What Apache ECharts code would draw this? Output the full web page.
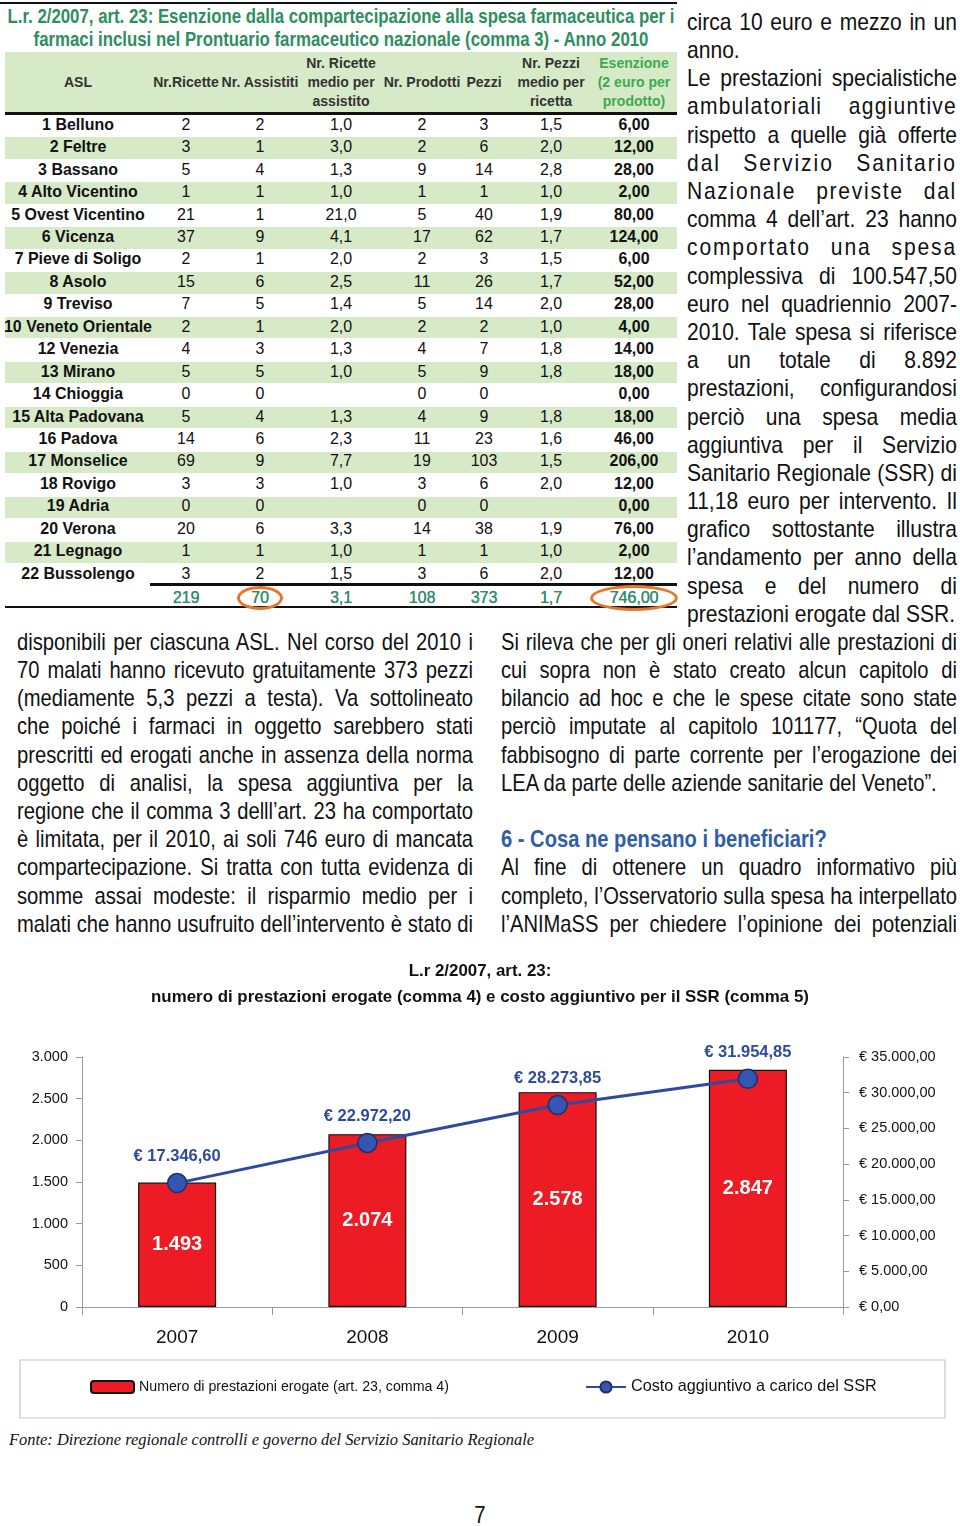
<!DOCTYPE html>
<html><head><meta charset="utf-8">
<script src="https://cdn.jsdelivr.net/npm/echarts@6/dist/echarts.min.js"></script>
<style>
html,body{margin:0;padding:0;background:#fff;}
body{width:960px;height:1526px;position:relative;overflow:hidden;font-family:"Liberation Sans",Arial,sans-serif;color:#111;}
.abs{position:absolute;}
.cell{position:absolute;white-space:nowrap;text-align:center;transform-origin:50% 50%;}
.ln{white-space:normal;overflow:visible;}
</style></head>
<body>
<div id="page"></div>
<div id="chart" style="position:absolute;left:0;top:940px;width:960px;height:520px;"></div>
<script>
// ---------------- DATA ----------------
const tableTitle = ['L.r. 2/2007, art. 23: Esenzione dalla compartecipazione alla spesa farmaceutica per i',
                    'farmaci inclusi nel Prontuario farmaceutico nazionale (comma 3) - Anno 2010'];
const headers = [['ASL'],['Nr.Ricette'],['Nr. Assistiti'],['Nr. Ricette','medio per','assistito'],['Nr. Prodotti'],['Pezzi'],['Nr. Pezzi','medio per','ricetta'],['Esenzione','(2 euro per','prodotto)']];
const asl = ['1 Belluno','2 Feltre','3 Bassano','4 Alto Vicentino','5 Ovest Vicentino','6 Vicenza','7 Pieve di Soligo','8 Asolo','9 Treviso','10 Veneto Orientale','12 Venezia','13 Mirano','14 Chioggia','15 Alta Padovana','16 Padova','17 Monselice','18 Rovigo','19 Adria','20 Verona','21 Legnago','22 Bussolengo'];
const nrRicette  = [2,3,5,1,21,37,2,15,7,2,4,5,0,5,14,69,3,0,20,1,3];
const nrAssistiti= [2,1,4,1,1,9,1,6,5,1,3,5,0,4,6,9,3,0,6,1,2];
const ricMedie   = [1.0,3.0,1.3,1.0,21.0,4.1,2.0,2.5,1.4,2.0,1.3,1.0,null,1.3,2.3,7.7,1.0,null,3.3,1.0,1.5];
const nrProdotti = [2,2,9,1,5,17,2,11,5,2,4,5,0,4,11,19,3,0,14,1,3];
const pezzi      = [3,6,14,1,40,62,3,26,14,2,7,9,0,9,23,103,6,0,38,1,6];
const pezziMedi  = [1.5,2.0,2.8,1.0,1.9,1.7,1.5,1.7,2.0,1.0,1.8,1.8,null,1.8,1.6,1.5,2.0,null,1.9,1.0,2.0];
const esenzione  = [6,12,28,2,80,124,6,52,28,4,14,18,0,18,46,206,12,0,76,2,12];
const totali     = ['219','70','3,1','108','373','1,7','746,00'];

const textRight = ['circa 10 euro e mezzo in un','anno.','Le prestazioni specialistiche','ambulatoriali aggiuntive','rispetto a quelle già offerte','dal Servizio Sanitario','Nazionale previste dal','comma 4 dell’art. 23 hanno','comportato una spesa','complessiva di 100.547,50','euro nel quadriennio 2007-','2010. Tale spesa si riferisce','a un totale di 8.892','prestazioni, configurandosi','perciò una spesa media','aggiuntiva per il Servizio','Sanitario Regionale (SSR) di','11,18 euro per intervento. Il','grafico sottostante illustra','l’andamento per anno della','spesa e del numero di','prestazioni erogate dal SSR.'];
const textLeft = ['disponibili per ciascuna ASL. Nel corso del 2010 i','70 malati hanno ricevuto gratuitamente 373 pezzi','(mediamente 5,3 pezzi a testa). Va sottolineato','che poiché i farmaci in oggetto sarebbero stati','prescritti ed erogati anche in assenza della norma','oggetto di analisi, la spesa aggiuntiva per la','regione che il comma 3 delll’art. 23 ha comportato','è limitata, per il 2010, ai soli 746 euro di mancata','compartecipazione. Si tratta con tutta evidenza di','somme assai modeste: il risparmio medio per i','malati che hanno usufruito dell’intervento è stato di'];
const textRight2 = ['Si rileva che per gli oneri relativi alle prestazioni di','cui sopra non è stato creato alcun capitolo di','bilancio ad hoc e che le spese  citate sono state','perciò imputate al capitolo 101177, “Quota del','fabbisogno di parte corrente per l’erogazione dei','LEA da parte delle aziende sanitarie del Veneto”.','','6 - Cosa ne pensano i beneficiari?','Al fine di ottenere un quadro informativo più','completo, l’Osservatorio sulla spesa ha interpellato','l’ANIMaSS per chiedere l’opinione dei potenziali'];

const chartTitle = 'L.r 2/2007, art. 23:\nnumero di prestazioni erogate (comma 4) e costo aggiuntivo per il SSR (comma 5)';
const anni = ['2007','2008','2009','2010'];
const prestazioni = [1493, 2074, 2578, 2847];
const costoSSR = [17346.60, 22972.20, 28273.85, 31954.85];
const nameBar = 'Numero di prestazioni erogate (art. 23, comma 4)';
const nameLine = 'Costo aggiuntivo a carico del SSR';
const fonte = 'Fonte: Direzione regionale controlli e governo del Servizio Sanitario Regionale';
const pageNum = '7';

// ---------------- HELPERS ----------------
function hasFont(name){
  const c=document.createElement('canvas').getContext('2d');
  const t='abcdefghijklmnopqrstuvwxyzABCDEFGHIJ0123456789';
  c.font='40px monospace'; const a=c.measureText(t).width;
  c.font='40px "'+name+'", monospace'; const b=c.measureText(t).width;
  return Math.abs(a-b)>0.5;
}
const HAS_NARROW = hasFont('Liberation Sans Narrow');
const NARROW = HAS_NARROW ? '"Liberation Sans Narrow", "Liberation Sans", sans-serif' : '"Liberation Sans", sans-serif';
const NARROW_EC = HAS_NARROW ? 'Liberation Sans Narrow' : 'Liberation Sans';
const page = document.getElementById('page');

function measure(text, css){
  const s=document.createElement('span');
  s.style.cssText='position:absolute;visibility:hidden;white-space:nowrap;'+css;
  s.textContent=text; document.body.appendChild(s);
  const w=s.getBoundingClientRect().width; s.remove(); return w;
}
function fmt1(v){ return v==null?'':v.toFixed(1).replace('.',','); }
function fmt2(v){ return v.toFixed(2).replace('.',','); }
function grp(n){ return String(n).replace(/\B(?=(\d{3})+(?!\d))/g,'.'); }
function euro(v){ const p=v.toFixed(2).split('.'); return '€ '+grp(p[0])+','+p[1]; }
function box(x,y,w,h,css){ const d=document.createElement('div'); d.className='abs';
  d.style.cssText+=`left:${x}px;top:${y}px;width:${w}px;height:${h}px;`+css; page.appendChild(d); return d; }

// text block: lines justified within width W, horizontally compressed to fit
function textBlock(lines, x, yc, W, size, lh, family, noJust, styles, expand){
  styles = styles||{}; expand = expand||[];
  const base=`font-family:${family};font-size:${size}px;`;
  let s=1e9;
  const nat = lines.map((t,i)=> t ? measure(t, base+(styles[i]||'')) : 0);
  lines.forEach((t,i)=>{ if(!t||noJust.includes(i)) return; s=Math.min(s, W/nat[i]); });
  s*=0.997;
  const inner = W/s;
  const wrap=document.createElement('div'); wrap.className='abs';
  wrap.style.cssText+=`left:${x}px;top:${yc-lh/2}px;width:${inner}px;transform-origin:0 0;transform:scaleX(${s});${base}line-height:${lh}px;color:#111;`;
  lines.forEach((t,i)=>{ const d=document.createElement('div'); d.className='ln';
    let extra='';
    if(expand.includes(i)){ const ls = 0.6*(inner-nat[i])/(t.length); extra=`letter-spacing:${ls}px;`; }
    d.style.cssText=`height:${lh}px;text-align:${noJust.includes(i)?'left':'justify'};text-align-last:${noJust.includes(i)?'left':'justify'};`+(styles[i]||'')+extra;
    d.textContent=t; wrap.appendChild(d); });
  page.appendChild(wrap);
}

// ---------------- TABLE ----------------
const colX=[78,186,260,341,422,484,551,634];
const rowTop=113, rowH=22.45, nRows=asl.length;
box(0,2,677,2,'background:#111;');
const titleCss=`font-family:${NARROW};font-size:21px;font-weight:bold;`;
const sTitle = 667/measure(tableTitle[0], titleCss);
tableTitle.forEach((t,i)=>{ const d=document.createElement('div'); d.className='cell';
  d.style.cssText+=`left:${341-600}px;width:1200px;top:${[16,39][i]-12}px;line-height:24px;${titleCss}color:#2E8E5E;transform:scaleX(${sTitle});`;
  d.textContent=t; page.appendChild(d); });
box(5,52,672,60,'background:#D7EAC8;');
box(5,112,672,3,'background:#111;');
for(let i=0;i<nRows;i++){ if(i%2===1) box(5,rowTop+2+rowH*i,672,rowH-1,'background:#D7EAC8;'); }
box(150,583,527,3,'background:#111;');
box(5,606,672,2,'background:#111;');

const cellCss=`font-family:${NARROW};font-size:17px;`;
const sCell = 148/measure(asl[9], cellCss+'font-weight:bold;');
function cell(html, cx, cy, n, lh, css){ const d=document.createElement('div'); d.className='cell';
  d.style.cssText+=`left:${cx-100}px;width:200px;top:${cy-n*lh/2}px;line-height:${lh}px;${css}transform:scaleX(${sCell});`;
  d.innerHTML=html; page.appendChild(d); }
headers.forEach((h,j)=>{
  cell(h.join('<br>'), colX[j], 81, h.length, 19,
       `font-family:${NARROW};font-size:15px;font-weight:bold;color:${j===7?'#3FA94E':'#333'};`);
});
const cols=[asl, nrRicette, nrAssistiti, ricMedie.map(fmt1), nrProdotti, pezzi, pezziMedi.map(fmt1), esenzione.map(fmt2)];
for(let i=0;i<nRows;i++){
  const cy=rowTop+rowH*(i+0.5)+0.5;
  cols.forEach((c,j)=>{ cell(String(c[i]), colX[j], cy, 1, 22, cellCss+((j===0||j===7)?'font-weight:bold;':'')); });
}
totali.forEach((t,j)=>{ cell(t, colX[j+1], 598, 1, 22, cellCss+'color:#2E8E6A;text-shadow:0.3px 0 0 #2E8E6A;'); });
box(237,586,46,24,'border:3px solid #E8762A;border-radius:50%;box-sizing:border-box;');
box(590,585,88,26,'border:3px solid #E8762A;border-radius:50%;box-sizing:border-box;');

// ---------------- TEXT ----------------
textBlock(textRight, 687, 22, 270, 24, 28.2, '"Liberation Sans", sans-serif', [1,21], {}, [3,5,6,8]);
textBlock(textLeft, 17, 642, 456, 24, 28.2, NARROW, []);
textBlock(textRight2, 501, 642, 456, 24, 28.2, NARROW, [5,6,7], {7:'font-weight:bold;color:#2F5DA6;'});

(function(){
  const css='font-family:"Liberation Serif",serif;font-style:italic;font-size:16px;';
  const s=525/measure(fonte, css);
  const d=document.createElement('div'); d.className='abs';
  d.style.cssText+=`left:9px;top:1430px;line-height:20px;white-space:nowrap;transform-origin:0 0;transform:scaleX(${s});${css}color:#111;`;
  d.textContent=fonte; page.appendChild(d);
  const p=document.createElement('div'); p.className='cell';
  p.style.cssText+=`left:430px;width:100px;top:1500px;line-height:30px;font-family:${NARROW};font-size:24px;color:#111;transform:scaleX(0.85);`;
  p.textContent=pageNum; page.appendChild(p);
})();

// ---------------- CHART ----------------
const chart = echarts.init(document.getElementById('chart'), null, {renderer:'canvas'});
chart.setOption({
  animation:false,
  title:{ text: chartTitle, left:'center', top:13,
    textStyle:{ fontFamily:NARROW_EC, fontWeight:'bold', fontSize:HAS_NARROW?18:16.9, lineHeight:26, color:'#111' } },
  grid:{ left:82, right:117, top:117, bottom:153, containLabel:false },
  legend:[
    { data:[nameBar], left:90, top:440, padding:0, itemWidth:43, itemHeight:12,
      textStyle:{ fontFamily:NARROW_EC, fontSize:HAS_NARROW?16:14.2, color:'#111' } },
    { data:[nameLine], left:585, top:439, padding:0, itemWidth:40, itemHeight:14,
      textStyle:{ fontFamily:NARROW_EC, fontSize:HAS_NARROW?18:16.2, color:'#111' } }
  ],
  graphic:[{ type:'rect', silent:true, shape:{x:20,y:420,width:925,height:58},
    style:{ fill:'none', stroke:'#C6C6C6', lineWidth:1.2 } }],
  xAxis:{ type:'category', data:anni, boundaryGap:true,
    axisLine:{ lineStyle:{ color:'#9A9A9A', width:1 } },
    axisTick:{ show:true, length:8, lineStyle:{ color:'#9A9A9A' } },
    axisLabel:{ fontFamily:'Liberation Sans', fontSize:19, color:'#111', margin:21 } },
  yAxis:[
    { type:'value', min:0, max:3000, interval:500, position:'left',
      axisLine:{ show:true, lineStyle:{ color:'#9A9A9A' } },
      axisTick:{ show:true, length:6, lineStyle:{ color:'#9A9A9A' } },
      splitLine:{ show:false },
      axisLabel:{ formatter:v=>grp(v), fontFamily:'Liberation Sans', fontSize:14.5, color:'#111', margin:14 } },
    { type:'value', min:0, max:35000, interval:5000, position:'right',
      axisLine:{ show:true, lineStyle:{ color:'#9A9A9A' } },
      axisTick:{ show:true, length:6, lineStyle:{ color:'#9A9A9A' } },
      splitLine:{ show:false },
      axisLabel:{ formatter:v=>euro(v), fontFamily:'Liberation Sans', fontSize:14.5, color:'#111', margin:16 } }
  ],
  series:[
    { name:nameBar, type:'bar', data:prestazioni, barWidth:78,
      itemStyle:{ color:'#ED1C24', borderColor:'#111', borderWidth:1.2 },
      label:{ show:true, position:'inside', color:'#fff', fontWeight:'bold', fontSize:20,
        fontFamily:'Liberation Sans', formatter:p=>grp(p.value) } },
    { name:nameLine, type:'line', yAxisIndex:1, data:costoSSR, z:5,
      symbol:'circle', symbolSize:19,
      lineStyle:{ color:'#2E4A9E', width:3 },
      itemStyle:{ color:'#3556B0', borderColor:'#1E2E6E', borderWidth:1.5 },
      label:{ show:true, position:'top', distance:8, color:'#2E4A9E', fontWeight:'bold', fontSize:HAS_NARROW?19:16.5,
        fontFamily:NARROW_EC, formatter:p=>euro(p.value) } }
  ]
});
</script>
</body></html>
